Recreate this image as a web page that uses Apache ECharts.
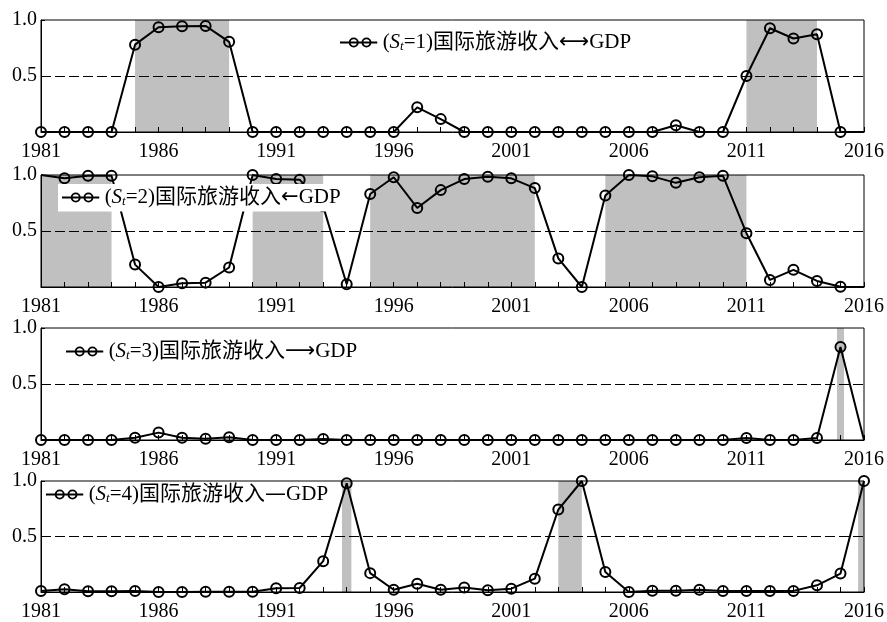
<!DOCTYPE html>
<html>
<head>
<meta charset="utf-8">
<script src="https://cdn.jsdelivr.net/npm/echarts@6/dist/echarts.min.js"></script>
<style>
  html, body { margin: 0; padding: 0; background: #fff; }
  #chart { width: 887px; height: 622px; }
</style>
</head>
<body>
<div id="chart"></div>
<script>
// years on the x axis
const years = [1981, 1982, 1983, 1984, 1985, 1986, 1987, 1988, 1989, 1990,
  1991, 1992, 1993, 1994, 1995, 1996, 1997, 1998, 1999, 2000,
  2001, 2002, 2003, 2004, 2005, 2006, 2007, 2008, 2009, 2010,
  2011, 2012, 2013, 2014, 2015, 2016]

// smoothed probability of each regime
const regime1 = [0, 0, 0, 0, 0.78, 0.935, 0.944, 0.947, 0.805, 0,
  0, 0, 0, 0, 0, 0, 0.22, 0.115, 0, 0,
  0, 0, 0, 0, 0, 0, 0, 0.06, 0, 0,
  0.5, 0.926, 0.835, 0.873, 0, 0]
const regime2 = [1.0, 0.97, 0.994, 0.994, 0.2, 0.0, 0.033, 0.039, 0.174, 1.0,
  0.964, 0.958, 0.72, 0.024, 0.83, 0.98, 0.706, 0.865, 0.964, 0.985,
  0.97, 0.883, 0.255, 0.0, 0.817, 1.0, 0.988, 0.93, 0.98, 0.994,
  0.48, 0.063, 0.153, 0.054, 0.003, 0]
const regime3 = [0, 0, 0, 0, 0.02, 0.066, 0.02, 0.012, 0.024, 0,
  0, 0, 0.01, 0, 0, 0, 0, 0, 0, 0,
  0, 0, 0, 0, 0, 0, 0, 0, 0, 0,
  0.018, 0, 0, 0.018, 0.83, 0]
const regime4 = [0.01, 0.024, 0.006, 0.006, 0.01, 0, 0, 0.003, 0.003, 0.003,
  0.033, 0.036, 0.278, 0.98, 0.17, 0.02, 0.075, 0.02, 0.04, 0.015,
  0.03, 0.12, 0.743, 1.0, 0.18, 0, 0.012, 0.012, 0.02, 0.01,
  0.01, 0.01, 0.01, 0.06, 0.166, 1.0]

// shaded periods (start, end)
const shade1 = [[1985, 1989], [2011, 2014]]
const shade2 = [[1981, 1984], [1990, 1993], [1995, 2002], [2005, 2011]]
const shade3 = [[2014.85, 2015.15]]
const shade4 = [[1993.8, 1994.2], [2003, 2004], [2015.75, 2016]]

const regimeNo = ['1', '2', '3', '4']
const links = ['⟷', '←', '⟶', '—']

const values = [regime1, regime2, regime3, regime4]
const shades = [shade1, shade2, shade3, shade4]
const names = regimeNo.map((r, i) => '(St=' + r + ')国际旅游收入' + links[i] + 'GDP')

// points drawn without a circle
const noMarker = [[2016], [1981, 2016], [2016], []]

const gridTops = [20, 175, 328, 481]
const legendPos = [[340, 32], [58, 184], [66, 341], [46, 484]]

const FONT = '"Liberation Serif", "Times New Roman", "Noto Sans CJK SC", serif'
// legend icon: line with two open circles
const ICON = 'path://M0 4.1H38V5.9H0Z' +
  'M8.9 5A5.1 5.1 0 1 1 19.1 5A5.1 5.1 0 1 1 8.9 5Z' +
  'M10.8 5A3.2 3.2 0 1 0 17.2 5A3.2 3.2 0 1 0 10.8 5Z' +
  'M21.9 5A5.1 5.1 0 1 1 32.1 5A5.1 5.1 0 1 1 21.9 5Z' +
  'M23.8 5A3.2 3.2 0 1 0 30.2 5A3.2 3.2 0 1 0 23.8 5Z'

const chart = echarts.init(document.getElementById('chart'), null, { renderer: 'canvas' })

const option = {
  backgroundColor: '#fff',
  animation: false,
  grid: gridTops.map(t => ({
    left: 41,
    right: 23,
    top: t,
    height: 112,
    show: true,
    borderColor: '#000',
    borderWidth: 1,
    backgroundColor: 'transparent'
  })),
  xAxis: gridTops.map((t, i) => ({
    type: 'value',
    gridIndex: i,
    min: 1981,
    max: 2016,
    interval: 5,
    axisLine: { lineStyle: { color: '#000', width: 1 } },
    axisTick: { inside: true, length: 5, lineStyle: { color: '#000' } },
    minorTick: { show: true, splitNumber: 5, length: 5, lineStyle: { color: '#000' } },
    splitLine: { show: false },
    axisLabel: {
      margin: 10,
      color: '#000',
      fontSize: 20,
      fontFamily: FONT,
      formatter: v => String(v)
    }
  })),
  yAxis: gridTops.map((t, i) => ({
    type: 'value',
    gridIndex: i,
    min: 0,
    max: 1,
    interval: 0.5,
    axisLine: { show: true, lineStyle: { color: '#000', width: 1 } },
    axisTick: { inside: true, length: 4, lineStyle: { color: '#000' } },
    splitLine: { show: false },
    axisLabel: {
      margin: 4,
      color: '#000',
      fontSize: 20,
      fontFamily: FONT,
      formatter: v => (v === 0 ? '' : v.toFixed(1))
    }
  })),
  legend: names.map((n, i) => ({
    data: [n],
    left: legendPos[i][0],
    top: legendPos[i][1],
    padding: i === 1 ? [3, 6, 3, 4] : 0,
    backgroundColor: i === 1 ? '#fff' : 'transparent',
    itemWidth: 38,
    itemHeight: 10,
    icon: ICON,
    selectedMode: false,
    itemStyle: { color: '#000', borderWidth: 0 },
    formatter: name => {
      const k = names.indexOf(name)
      return '{p|(}{i|S}{s|t}{p|=' + regimeNo[k] + ')国际旅游收入}{a|' + links[k] + '}{p|GDP}'
    },
    textStyle: {
      rich: {
        p: { fontFamily: FONT, fontSize: 21, color: '#000', lineHeight: 22 },
        i: { fontFamily: FONT, fontSize: 21, fontStyle: 'italic', color: '#000', lineHeight: 22 },
        s: { fontFamily: FONT, fontSize: 13, fontStyle: 'italic', color: '#000', lineHeight: 8, verticalAlign: 'bottom' },
        a: { fontFamily: '"DejaVu Sans", sans-serif', fontSize: 21, color: '#000', lineHeight: 22 }
      }
    }
  })),
  series: values.map((vals, i) => ({
    type: 'line',
    name: names[i],
    xAxisIndex: i,
    yAxisIndex: i,
    symbol: 'circle',
    symbolSize: 10,
    showAllSymbol: true,
    lineStyle: { color: '#000', width: 2 },
    itemStyle: { color: 'transparent', borderColor: '#000', borderWidth: 2 },
    emphasis: { disabled: true },
    data: years.map((y, k) => ({
      value: [y, vals[k]],
      symbol: noMarker[i].includes(y) ? 'none' : 'circle'
    })),
    markArea: {
      silent: true,
      z: -1,
      itemStyle: { color: '#c0c0c0' },
      data: shades[i].map(s => [{ xAxis: s[0] }, { xAxis: s[1] }])
    },
    markLine: {
      silent: true,
      symbol: 'none',
      label: { show: false },
      lineStyle: { color: '#000', type: [10, 4], width: 1 },
      data: [{ yAxis: 0.5 }]
    }
  }))
}

chart.setOption(option)
</script>
</body>
</html>
